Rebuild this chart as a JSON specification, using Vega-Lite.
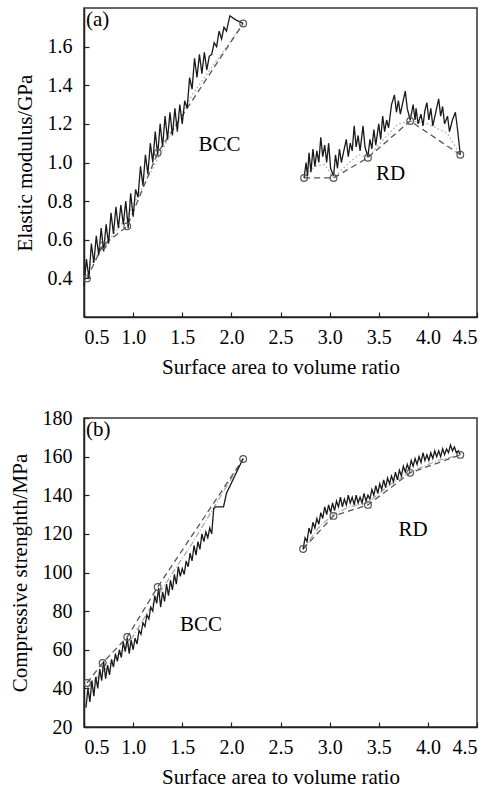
{
  "$schema": "https://vega.github.io/schema/vega-lite/v6.json",
  "padding": {"left": 8, "top": 7, "right": 0, "bottom": 0},
  "spacing": 29,
  "config": {
    "font": "Liberation Serif",
    "view": {"stroke": "#333", "strokeWidth": 1.5},
    "axis": {"labelFont": "Liberation Serif", "titleFont": "Liberation Serif", "labelFontSize": 20, "titleFontSize": 21, "titleFontWeight": "normal", "labelColor": "#000", "titleColor": "#000", "domainColor": "#222", "domainWidth": 1.5, "tickColor": "#222", "tickSize": -5, "tickWidth": 1.2, "grid": false, "labelOverlap": false},
    "axisX": {"labelPadding": 15, "titlePadding": 9},
    "axisY": {"labelPadding": 17, "titlePadding": 12}
  },
  "datasets": {
    "a": [
      {"kind": "curve", "series": "BCC", "x": 0.5, "y": 0.36},
      {"kind": "curve", "series": "BCC", "x": 0.525, "y": 0.5},
      {"kind": "curve", "series": "BCC", "x": 0.55, "y": 0.4},
      {"kind": "curve", "series": "BCC", "x": 0.575, "y": 0.58},
      {"kind": "curve", "series": "BCC", "x": 0.6, "y": 0.48},
      {"kind": "curve", "series": "BCC", "x": 0.625, "y": 0.62},
      {"kind": "curve", "series": "BCC", "x": 0.65, "y": 0.52},
      {"kind": "curve", "series": "BCC", "x": 0.675, "y": 0.66},
      {"kind": "curve", "series": "BCC", "x": 0.7, "y": 0.54},
      {"kind": "curve", "series": "BCC", "x": 0.725, "y": 0.68},
      {"kind": "curve", "series": "BCC", "x": 0.75, "y": 0.58},
      {"kind": "curve", "series": "BCC", "x": 0.775, "y": 0.74},
      {"kind": "curve", "series": "BCC", "x": 0.8, "y": 0.63},
      {"kind": "curve", "series": "BCC", "x": 0.825, "y": 0.77},
      {"kind": "curve", "series": "BCC", "x": 0.85, "y": 0.66},
      {"kind": "curve", "series": "BCC", "x": 0.875, "y": 0.78},
      {"kind": "curve", "series": "BCC", "x": 0.9, "y": 0.68},
      {"kind": "curve", "series": "BCC", "x": 0.925, "y": 0.8},
      {"kind": "curve", "series": "BCC", "x": 0.95, "y": 0.66},
      {"kind": "curve", "series": "BCC", "x": 0.975, "y": 0.84},
      {"kind": "curve", "series": "BCC", "x": 1.0, "y": 0.72},
      {"kind": "curve", "series": "BCC", "x": 1.025, "y": 0.86},
      {"kind": "curve", "series": "BCC", "x": 1.05, "y": 0.82},
      {"kind": "curve", "series": "BCC", "x": 1.075, "y": 0.98},
      {"kind": "curve", "series": "BCC", "x": 1.1, "y": 0.88},
      {"kind": "curve", "series": "BCC", "x": 1.125, "y": 1.04},
      {"kind": "curve", "series": "BCC", "x": 1.15, "y": 0.94},
      {"kind": "curve", "series": "BCC", "x": 1.175, "y": 1.1},
      {"kind": "curve", "series": "BCC", "x": 1.2, "y": 1.0},
      {"kind": "curve", "series": "BCC", "x": 1.225, "y": 1.16},
      {"kind": "curve", "series": "BCC", "x": 1.25, "y": 1.04},
      {"kind": "curve", "series": "BCC", "x": 1.275, "y": 1.2},
      {"kind": "curve", "series": "BCC", "x": 1.3, "y": 1.08},
      {"kind": "curve", "series": "BCC", "x": 1.325, "y": 1.24},
      {"kind": "curve", "series": "BCC", "x": 1.35, "y": 1.12},
      {"kind": "curve", "series": "BCC", "x": 1.375, "y": 1.26},
      {"kind": "curve", "series": "BCC", "x": 1.4, "y": 1.14},
      {"kind": "curve", "series": "BCC", "x": 1.425, "y": 1.28},
      {"kind": "curve", "series": "BCC", "x": 1.45, "y": 1.16},
      {"kind": "curve", "series": "BCC", "x": 1.475, "y": 1.3},
      {"kind": "curve", "series": "BCC", "x": 1.5, "y": 1.2},
      {"kind": "curve", "series": "BCC", "x": 1.525, "y": 1.32},
      {"kind": "curve", "series": "BCC", "x": 1.55, "y": 1.28},
      {"kind": "curve", "series": "BCC", "x": 1.575, "y": 1.44},
      {"kind": "curve", "series": "BCC", "x": 1.6, "y": 1.38},
      {"kind": "curve", "series": "BCC", "x": 1.625, "y": 1.54},
      {"kind": "curve", "series": "BCC", "x": 1.65, "y": 1.44},
      {"kind": "curve", "series": "BCC", "x": 1.675, "y": 1.56},
      {"kind": "curve", "series": "BCC", "x": 1.7, "y": 1.46},
      {"kind": "curve", "series": "BCC", "x": 1.725, "y": 1.57},
      {"kind": "curve", "series": "BCC", "x": 1.75, "y": 1.48},
      {"kind": "curve", "series": "BCC", "x": 1.775, "y": 1.55},
      {"kind": "curve", "series": "BCC", "x": 1.8, "y": 1.56},
      {"kind": "curve", "series": "BCC", "x": 1.825, "y": 1.62},
      {"kind": "curve", "series": "BCC", "x": 1.85, "y": 1.6},
      {"kind": "curve", "series": "BCC", "x": 1.875, "y": 1.68},
      {"kind": "curve", "series": "BCC", "x": 1.9, "y": 1.64},
      {"kind": "curve", "series": "BCC", "x": 1.925, "y": 1.7},
      {"kind": "curve", "series": "BCC", "x": 1.95, "y": 1.68},
      {"kind": "curve", "series": "BCC", "x": 1.985, "y": 1.76},
      {"kind": "curve", "series": "BCC", "x": 2.04, "y": 1.74},
      {"kind": "curve", "series": "BCC", "x": 2.12, "y": 1.72},
      {"kind": "curve", "series": "RD", "x": 2.74, "y": 0.92},
      {"kind": "curve", "series": "RD", "x": 2.76, "y": 1.0},
      {"kind": "curve", "series": "RD", "x": 2.775, "y": 0.93},
      {"kind": "curve", "series": "RD", "x": 2.79, "y": 1.05},
      {"kind": "curve", "series": "RD", "x": 2.81, "y": 0.95},
      {"kind": "curve", "series": "RD", "x": 2.83, "y": 1.07},
      {"kind": "curve", "series": "RD", "x": 2.85, "y": 0.98},
      {"kind": "curve", "series": "RD", "x": 2.87, "y": 1.06},
      {"kind": "curve", "series": "RD", "x": 2.89, "y": 1.0},
      {"kind": "curve", "series": "RD", "x": 2.91, "y": 1.13},
      {"kind": "curve", "series": "RD", "x": 2.93, "y": 1.03},
      {"kind": "curve", "series": "RD", "x": 2.95, "y": 1.09},
      {"kind": "curve", "series": "RD", "x": 2.97, "y": 1.0},
      {"kind": "curve", "series": "RD", "x": 2.99, "y": 1.1},
      {"kind": "curve", "series": "RD", "x": 3.01, "y": 0.97},
      {"kind": "curve", "series": "RD", "x": 3.04, "y": 0.93},
      {"kind": "curve", "series": "RD", "x": 3.06, "y": 1.04},
      {"kind": "curve", "series": "RD", "x": 3.08, "y": 0.97},
      {"kind": "curve", "series": "RD", "x": 3.1, "y": 1.07},
      {"kind": "curve", "series": "RD", "x": 3.12, "y": 1.0},
      {"kind": "curve", "series": "RD", "x": 3.14, "y": 1.05},
      {"kind": "curve", "series": "RD", "x": 3.17, "y": 1.12},
      {"kind": "curve", "series": "RD", "x": 3.19, "y": 1.03},
      {"kind": "curve", "series": "RD", "x": 3.21, "y": 1.1},
      {"kind": "curve", "series": "RD", "x": 3.23, "y": 1.06},
      {"kind": "curve", "series": "RD", "x": 3.25, "y": 1.19},
      {"kind": "curve", "series": "RD", "x": 3.27, "y": 1.08},
      {"kind": "curve", "series": "RD", "x": 3.29, "y": 1.14},
      {"kind": "curve", "series": "RD", "x": 3.31, "y": 1.06},
      {"kind": "curve", "series": "RD", "x": 3.34, "y": 1.19},
      {"kind": "curve", "series": "RD", "x": 3.36, "y": 1.08},
      {"kind": "curve", "series": "RD", "x": 3.39, "y": 1.03},
      {"kind": "curve", "series": "RD", "x": 3.41, "y": 1.12},
      {"kind": "curve", "series": "RD", "x": 3.43, "y": 1.07},
      {"kind": "curve", "series": "RD", "x": 3.45, "y": 1.17},
      {"kind": "curve", "series": "RD", "x": 3.47, "y": 1.09},
      {"kind": "curve", "series": "RD", "x": 3.5, "y": 1.2},
      {"kind": "curve", "series": "RD", "x": 3.52, "y": 1.12},
      {"kind": "curve", "series": "RD", "x": 3.54, "y": 1.24},
      {"kind": "curve", "series": "RD", "x": 3.56, "y": 1.16},
      {"kind": "curve", "series": "RD", "x": 3.58, "y": 1.22},
      {"kind": "curve", "series": "RD", "x": 3.6, "y": 1.18},
      {"kind": "curve", "series": "RD", "x": 3.63, "y": 1.3},
      {"kind": "curve", "series": "RD", "x": 3.66, "y": 1.35},
      {"kind": "curve", "series": "RD", "x": 3.68, "y": 1.26},
      {"kind": "curve", "series": "RD", "x": 3.7, "y": 1.32},
      {"kind": "curve", "series": "RD", "x": 3.72, "y": 1.25},
      {"kind": "curve", "series": "RD", "x": 3.74, "y": 1.3},
      {"kind": "curve", "series": "RD", "x": 3.77, "y": 1.37},
      {"kind": "curve", "series": "RD", "x": 3.79, "y": 1.28},
      {"kind": "curve", "series": "RD", "x": 3.82, "y": 1.22},
      {"kind": "curve", "series": "RD", "x": 3.85, "y": 1.3},
      {"kind": "curve", "series": "RD", "x": 3.87, "y": 1.22},
      {"kind": "curve", "series": "RD", "x": 3.88, "y": 1.28},
      {"kind": "curve", "series": "RD", "x": 3.9, "y": 1.2},
      {"kind": "curve", "series": "RD", "x": 3.93, "y": 1.25},
      {"kind": "curve", "series": "RD", "x": 3.95, "y": 1.19},
      {"kind": "curve", "series": "RD", "x": 3.97, "y": 1.27},
      {"kind": "curve", "series": "RD", "x": 3.99, "y": 1.31},
      {"kind": "curve", "series": "RD", "x": 4.01, "y": 1.22},
      {"kind": "curve", "series": "RD", "x": 4.03, "y": 1.28},
      {"kind": "curve", "series": "RD", "x": 4.05, "y": 1.19},
      {"kind": "curve", "series": "RD", "x": 4.08, "y": 1.26},
      {"kind": "curve", "series": "RD", "x": 4.11, "y": 1.33},
      {"kind": "curve", "series": "RD", "x": 4.13, "y": 1.24},
      {"kind": "curve", "series": "RD", "x": 4.15, "y": 1.29},
      {"kind": "curve", "series": "RD", "x": 4.17, "y": 1.2},
      {"kind": "curve", "series": "RD", "x": 4.2, "y": 1.24},
      {"kind": "curve", "series": "RD", "x": 4.22, "y": 1.16},
      {"kind": "curve", "series": "RD", "x": 4.25, "y": 1.22},
      {"kind": "curve", "series": "RD", "x": 4.28, "y": 1.26},
      {"kind": "curve", "series": "RD", "x": 4.3, "y": 1.18},
      {"kind": "curve", "series": "RD", "x": 4.33, "y": 1.04},
      {"kind": "dash", "series": "BCC", "x": 0.53, "y": 0.4},
      {"kind": "dash", "series": "BCC", "x": 0.69, "y": 0.57},
      {"kind": "dash", "series": "BCC", "x": 0.94, "y": 0.67},
      {"kind": "dash", "series": "BCC", "x": 1.25, "y": 1.05},
      {"kind": "dash", "series": "BCC", "x": 2.12, "y": 1.72},
      {"kind": "dash", "series": "RD", "x": 2.74, "y": 0.92},
      {"kind": "dash", "series": "RD", "x": 3.04, "y": 0.92},
      {"kind": "dash", "series": "RD", "x": 3.39, "y": 1.025},
      {"kind": "dash", "series": "RD", "x": 3.82, "y": 1.215},
      {"kind": "dash", "series": "RD", "x": 4.33, "y": 1.04},
      {"kind": "dot", "series": "BCC", "x": 0.53, "y": 0.45},
      {"kind": "dot", "series": "BCC", "x": 0.94, "y": 0.72},
      {"kind": "dot", "series": "BCC", "x": 1.25, "y": 1.02},
      {"kind": "dot", "series": "BCC", "x": 1.6, "y": 1.35},
      {"kind": "dot", "series": "BCC", "x": 2.12, "y": 1.72},
      {"kind": "dot", "series": "RD", "x": 2.74, "y": 0.92},
      {"kind": "dot", "series": "RD", "x": 2.85, "y": 0.98},
      {"kind": "dot", "series": "RD", "x": 2.95, "y": 0.99},
      {"kind": "dot", "series": "RD", "x": 3.04, "y": 0.92},
      {"kind": "dot", "series": "RD", "x": 3.2, "y": 1.0},
      {"kind": "dot", "series": "RD", "x": 3.3, "y": 1.04},
      {"kind": "dot", "series": "RD", "x": 3.39, "y": 1.025},
      {"kind": "dot", "series": "RD", "x": 3.55, "y": 1.12},
      {"kind": "dot", "series": "RD", "x": 3.7, "y": 1.2},
      {"kind": "dot", "series": "RD", "x": 3.82, "y": 1.215},
      {"kind": "dot", "series": "RD", "x": 4.0, "y": 1.2},
      {"kind": "dot", "series": "RD", "x": 4.2, "y": 1.15},
      {"kind": "dot", "series": "RD", "x": 4.33, "y": 1.04},
      {"kind": "pt", "series": "BCC", "x": 0.53, "y": 0.4},
      {"kind": "pt", "series": "BCC", "x": 0.69, "y": 0.57},
      {"kind": "pt", "series": "BCC", "x": 0.94, "y": 0.67},
      {"kind": "pt", "series": "BCC", "x": 1.25, "y": 1.05},
      {"kind": "pt", "series": "BCC", "x": 2.12, "y": 1.72},
      {"kind": "pt", "series": "RD", "x": 2.74, "y": 0.92},
      {"kind": "pt", "series": "RD", "x": 3.04, "y": 0.92},
      {"kind": "pt", "series": "RD", "x": 3.39, "y": 1.025},
      {"kind": "pt", "series": "RD", "x": 3.82, "y": 1.215},
      {"kind": "pt", "series": "RD", "x": 4.33, "y": 1.04}
    ],
    "b": [
      {"kind": "curve", "series": "BCC", "x": 0.52, "y": 30},
      {"kind": "curve", "series": "BCC", "x": 0.54, "y": 40},
      {"kind": "curve", "series": "BCC", "x": 0.56, "y": 33},
      {"kind": "curve", "series": "BCC", "x": 0.58, "y": 44},
      {"kind": "curve", "series": "BCC", "x": 0.6, "y": 36},
      {"kind": "curve", "series": "BCC", "x": 0.62, "y": 46},
      {"kind": "curve", "series": "BCC", "x": 0.64, "y": 40},
      {"kind": "curve", "series": "BCC", "x": 0.66, "y": 50},
      {"kind": "curve", "series": "BCC", "x": 0.68, "y": 44},
      {"kind": "curve", "series": "BCC", "x": 0.7, "y": 54},
      {"kind": "curve", "series": "BCC", "x": 0.72, "y": 45},
      {"kind": "curve", "series": "BCC", "x": 0.74, "y": 52},
      {"kind": "curve", "series": "BCC", "x": 0.76, "y": 47},
      {"kind": "curve", "series": "BCC", "x": 0.78, "y": 55},
      {"kind": "curve", "series": "BCC", "x": 0.8, "y": 51},
      {"kind": "curve", "series": "BCC", "x": 0.82, "y": 58},
      {"kind": "curve", "series": "BCC", "x": 0.84, "y": 54},
      {"kind": "curve", "series": "BCC", "x": 0.86, "y": 60},
      {"kind": "curve", "series": "BCC", "x": 0.88, "y": 56},
      {"kind": "curve", "series": "BCC", "x": 0.9, "y": 64},
      {"kind": "curve", "series": "BCC", "x": 0.92, "y": 59},
      {"kind": "curve", "series": "BCC", "x": 0.94, "y": 66},
      {"kind": "curve", "series": "BCC", "x": 0.96, "y": 58},
      {"kind": "curve", "series": "BCC", "x": 0.98, "y": 65},
      {"kind": "curve", "series": "BCC", "x": 1.0, "y": 60},
      {"kind": "curve", "series": "BCC", "x": 1.02, "y": 66},
      {"kind": "curve", "series": "BCC", "x": 1.04, "y": 63},
      {"kind": "curve", "series": "BCC", "x": 1.06, "y": 70},
      {"kind": "curve", "series": "BCC", "x": 1.08, "y": 68},
      {"kind": "curve", "series": "BCC", "x": 1.1, "y": 74},
      {"kind": "curve", "series": "BCC", "x": 1.12, "y": 72},
      {"kind": "curve", "series": "BCC", "x": 1.14, "y": 78},
      {"kind": "curve", "series": "BCC", "x": 1.16, "y": 76},
      {"kind": "curve", "series": "BCC", "x": 1.18, "y": 82},
      {"kind": "curve", "series": "BCC", "x": 1.2, "y": 80},
      {"kind": "curve", "series": "BCC", "x": 1.22, "y": 88},
      {"kind": "curve", "series": "BCC", "x": 1.24, "y": 84},
      {"kind": "curve", "series": "BCC", "x": 1.26, "y": 92},
      {"kind": "curve", "series": "BCC", "x": 1.28, "y": 82},
      {"kind": "curve", "series": "BCC", "x": 1.3, "y": 90},
      {"kind": "curve", "series": "BCC", "x": 1.32, "y": 85},
      {"kind": "curve", "series": "BCC", "x": 1.34, "y": 94},
      {"kind": "curve", "series": "BCC", "x": 1.36, "y": 88},
      {"kind": "curve", "series": "BCC", "x": 1.38, "y": 96},
      {"kind": "curve", "series": "BCC", "x": 1.4, "y": 91},
      {"kind": "curve", "series": "BCC", "x": 1.42, "y": 99},
      {"kind": "curve", "series": "BCC", "x": 1.44, "y": 94},
      {"kind": "curve", "series": "BCC", "x": 1.46, "y": 103},
      {"kind": "curve", "series": "BCC", "x": 1.48, "y": 98},
      {"kind": "curve", "series": "BCC", "x": 1.5, "y": 102},
      {"kind": "curve", "series": "BCC", "x": 1.52, "y": 99},
      {"kind": "curve", "series": "BCC", "x": 1.54, "y": 106},
      {"kind": "curve", "series": "BCC", "x": 1.56, "y": 103},
      {"kind": "curve", "series": "BCC", "x": 1.58, "y": 110},
      {"kind": "curve", "series": "BCC", "x": 1.6, "y": 106},
      {"kind": "curve", "series": "BCC", "x": 1.62, "y": 114},
      {"kind": "curve", "series": "BCC", "x": 1.64, "y": 109},
      {"kind": "curve", "series": "BCC", "x": 1.66, "y": 116},
      {"kind": "curve", "series": "BCC", "x": 1.68, "y": 112},
      {"kind": "curve", "series": "BCC", "x": 1.7, "y": 120},
      {"kind": "curve", "series": "BCC", "x": 1.72, "y": 116},
      {"kind": "curve", "series": "BCC", "x": 1.74, "y": 121},
      {"kind": "curve", "series": "BCC", "x": 1.76, "y": 118},
      {"kind": "curve", "series": "BCC", "x": 1.78, "y": 123},
      {"kind": "curve", "series": "BCC", "x": 1.8, "y": 120},
      {"kind": "curve", "series": "BCC", "x": 1.82, "y": 133},
      {"kind": "curve", "series": "BCC", "x": 1.84, "y": 134},
      {"kind": "curve", "series": "BCC", "x": 1.92, "y": 134},
      {"kind": "curve", "series": "BCC", "x": 1.95, "y": 141},
      {"kind": "curve", "series": "BCC", "x": 2.12, "y": 159},
      {"kind": "curve", "series": "RD", "x": 2.73, "y": 112},
      {"kind": "curve", "series": "RD", "x": 2.75, "y": 118},
      {"kind": "curve", "series": "RD", "x": 2.77, "y": 116},
      {"kind": "curve", "series": "RD", "x": 2.79, "y": 123},
      {"kind": "curve", "series": "RD", "x": 2.81, "y": 120},
      {"kind": "curve", "series": "RD", "x": 2.83, "y": 126},
      {"kind": "curve", "series": "RD", "x": 2.85, "y": 123},
      {"kind": "curve", "series": "RD", "x": 2.87, "y": 128},
      {"kind": "curve", "series": "RD", "x": 2.89, "y": 125},
      {"kind": "curve", "series": "RD", "x": 2.91, "y": 131},
      {"kind": "curve", "series": "RD", "x": 2.93, "y": 128},
      {"kind": "curve", "series": "RD", "x": 2.95, "y": 134},
      {"kind": "curve", "series": "RD", "x": 2.97, "y": 130},
      {"kind": "curve", "series": "RD", "x": 2.99, "y": 135},
      {"kind": "curve", "series": "RD", "x": 3.01, "y": 131},
      {"kind": "curve", "series": "RD", "x": 3.03, "y": 136},
      {"kind": "curve", "series": "RD", "x": 3.05, "y": 132},
      {"kind": "curve", "series": "RD", "x": 3.07, "y": 137},
      {"kind": "curve", "series": "RD", "x": 3.09, "y": 134},
      {"kind": "curve", "series": "RD", "x": 3.11, "y": 139},
      {"kind": "curve", "series": "RD", "x": 3.13, "y": 134},
      {"kind": "curve", "series": "RD", "x": 3.15, "y": 138},
      {"kind": "curve", "series": "RD", "x": 3.17, "y": 135},
      {"kind": "curve", "series": "RD", "x": 3.19, "y": 140},
      {"kind": "curve", "series": "RD", "x": 3.21, "y": 136},
      {"kind": "curve", "series": "RD", "x": 3.23, "y": 139},
      {"kind": "curve", "series": "RD", "x": 3.25, "y": 135},
      {"kind": "curve", "series": "RD", "x": 3.27, "y": 140},
      {"kind": "curve", "series": "RD", "x": 3.29, "y": 136},
      {"kind": "curve", "series": "RD", "x": 3.31, "y": 139},
      {"kind": "curve", "series": "RD", "x": 3.33, "y": 136},
      {"kind": "curve", "series": "RD", "x": 3.35, "y": 141},
      {"kind": "curve", "series": "RD", "x": 3.37, "y": 137},
      {"kind": "curve", "series": "RD", "x": 3.39, "y": 140},
      {"kind": "curve", "series": "RD", "x": 3.41, "y": 138},
      {"kind": "curve", "series": "RD", "x": 3.43, "y": 143},
      {"kind": "curve", "series": "RD", "x": 3.45, "y": 140},
      {"kind": "curve", "series": "RD", "x": 3.47, "y": 145},
      {"kind": "curve", "series": "RD", "x": 3.49, "y": 141},
      {"kind": "curve", "series": "RD", "x": 3.51, "y": 146},
      {"kind": "curve", "series": "RD", "x": 3.53, "y": 143},
      {"kind": "curve", "series": "RD", "x": 3.55, "y": 148},
      {"kind": "curve", "series": "RD", "x": 3.57, "y": 144},
      {"kind": "curve", "series": "RD", "x": 3.59, "y": 149},
      {"kind": "curve", "series": "RD", "x": 3.61, "y": 146},
      {"kind": "curve", "series": "RD", "x": 3.63, "y": 150},
      {"kind": "curve", "series": "RD", "x": 3.65, "y": 147},
      {"kind": "curve", "series": "RD", "x": 3.67, "y": 152},
      {"kind": "curve", "series": "RD", "x": 3.69, "y": 148},
      {"kind": "curve", "series": "RD", "x": 3.71, "y": 153},
      {"kind": "curve", "series": "RD", "x": 3.73, "y": 150},
      {"kind": "curve", "series": "RD", "x": 3.75, "y": 155},
      {"kind": "curve", "series": "RD", "x": 3.77, "y": 152},
      {"kind": "curve", "series": "RD", "x": 3.79, "y": 156},
      {"kind": "curve", "series": "RD", "x": 3.81, "y": 153},
      {"kind": "curve", "series": "RD", "x": 3.83, "y": 158},
      {"kind": "curve", "series": "RD", "x": 3.85, "y": 155},
      {"kind": "curve", "series": "RD", "x": 3.87, "y": 159},
      {"kind": "curve", "series": "RD", "x": 3.89, "y": 156},
      {"kind": "curve", "series": "RD", "x": 3.91, "y": 160},
      {"kind": "curve", "series": "RD", "x": 3.93, "y": 157},
      {"kind": "curve", "series": "RD", "x": 3.95, "y": 162},
      {"kind": "curve", "series": "RD", "x": 3.97, "y": 158},
      {"kind": "curve", "series": "RD", "x": 3.99, "y": 161},
      {"kind": "curve", "series": "RD", "x": 4.01, "y": 158},
      {"kind": "curve", "series": "RD", "x": 4.03, "y": 162},
      {"kind": "curve", "series": "RD", "x": 4.05, "y": 159},
      {"kind": "curve", "series": "RD", "x": 4.07, "y": 163},
      {"kind": "curve", "series": "RD", "x": 4.09, "y": 160},
      {"kind": "curve", "series": "RD", "x": 4.11, "y": 163},
      {"kind": "curve", "series": "RD", "x": 4.13, "y": 160},
      {"kind": "curve", "series": "RD", "x": 4.15, "y": 164},
      {"kind": "curve", "series": "RD", "x": 4.17, "y": 161},
      {"kind": "curve", "series": "RD", "x": 4.19, "y": 164},
      {"kind": "curve", "series": "RD", "x": 4.21, "y": 162},
      {"kind": "curve", "series": "RD", "x": 4.23, "y": 166},
      {"kind": "curve", "series": "RD", "x": 4.25, "y": 163},
      {"kind": "curve", "series": "RD", "x": 4.27, "y": 165},
      {"kind": "curve", "series": "RD", "x": 4.29, "y": 162},
      {"kind": "curve", "series": "RD", "x": 4.31, "y": 163},
      {"kind": "curve", "series": "RD", "x": 4.33, "y": 161},
      {"kind": "dash", "series": "BCC", "x": 0.53, "y": 42.8},
      {"kind": "dash", "series": "BCC", "x": 0.69, "y": 53.2},
      {"kind": "dash", "series": "BCC", "x": 0.94, "y": 66.6},
      {"kind": "dash", "series": "BCC", "x": 1.25, "y": 92.5},
      {"kind": "dash", "series": "BCC", "x": 2.12, "y": 158.8},
      {"kind": "dash", "series": "RD", "x": 2.73, "y": 112.2},
      {"kind": "dash", "series": "RD", "x": 3.04, "y": 129.3},
      {"kind": "dash", "series": "RD", "x": 3.39, "y": 135},
      {"kind": "dash", "series": "RD", "x": 3.82, "y": 151.6},
      {"kind": "dash", "series": "RD", "x": 4.33, "y": 160.9},
      {"kind": "dot", "series": "BCC", "x": 0.53, "y": 40},
      {"kind": "dot", "series": "BCC", "x": 0.94, "y": 62},
      {"kind": "dot", "series": "BCC", "x": 1.25, "y": 88},
      {"kind": "dot", "series": "BCC", "x": 1.6, "y": 115},
      {"kind": "dot", "series": "BCC", "x": 2.12, "y": 158.8},
      {"kind": "dot", "series": "RD", "x": 2.73, "y": 112.2},
      {"kind": "dot", "series": "RD", "x": 2.9, "y": 124},
      {"kind": "dot", "series": "RD", "x": 3.04, "y": 130},
      {"kind": "dot", "series": "RD", "x": 3.2, "y": 134},
      {"kind": "dot", "series": "RD", "x": 3.39, "y": 136},
      {"kind": "dot", "series": "RD", "x": 3.6, "y": 145},
      {"kind": "dot", "series": "RD", "x": 3.82, "y": 152},
      {"kind": "dot", "series": "RD", "x": 4.1, "y": 158},
      {"kind": "dot", "series": "RD", "x": 4.33, "y": 160.9},
      {"kind": "pt", "series": "BCC", "x": 0.53, "y": 42.8},
      {"kind": "pt", "series": "BCC", "x": 0.69, "y": 53.2},
      {"kind": "pt", "series": "BCC", "x": 0.94, "y": 66.6},
      {"kind": "pt", "series": "BCC", "x": 1.25, "y": 92.5},
      {"kind": "pt", "series": "BCC", "x": 2.12, "y": 158.8},
      {"kind": "pt", "series": "RD", "x": 2.73, "y": 112.2},
      {"kind": "pt", "series": "RD", "x": 3.04, "y": 129.3},
      {"kind": "pt", "series": "RD", "x": 3.39, "y": 135},
      {"kind": "pt", "series": "RD", "x": 3.82, "y": 151.6},
      {"kind": "pt", "series": "RD", "x": 4.33, "y": 160.9}
    ],
    "la": [
      {"x": 1.88, "y": 1.09, "label": "BCC"},
      {"x": 3.62, "y": 0.94, "label": "RD"}
    ],
    "lb": [
      {"x": 1.69, "y": 72.8, "label": "BCC"},
      {"x": 3.85, "y": 122, "label": "RD"}
    ],
    "ta": [{"x": 0.5, "y": 1.8, "label": "(a)"}],
    "tb": [{"x": 0.5, "y": 180, "label": "(b)"}]
  },
  "vconcat": [
    {
      "width": 393,
      "height": 309,
      "layer": [
        {
          "data": {"name": "a"},
          "transform": [{"filter": "datum.kind === 'dot'"}],
          "mark": {"type": "line", "color": "#b5b5b5", "strokeWidth": 1.2, "strokeDash": [2, 2]},
          "encoding": {
            "x": {"field": "x", "type": "quantitative", "scale": {"domain": [0.5, 4.5], "nice": false, "zero": false}, "axis": {"values": [0.5, 1, 1.5, 2, 2.5, 3, 3.5, 4, 4.5], "tickCount": 12, "format": ".1f", "title": "Surface area to volume ratio", "labelOverlap": false}},
            "y": {"field": "y", "type": "quantitative", "scale": {"domain": [0.2, 1.8], "nice": false, "zero": false}, "axis": {"values": [0.4, 0.6, 0.8, 1.0, 1.2, 1.4, 1.6], "tickCount": 12, "format": ".1f", "title": "Elastic modulus/GPa", "labelOverlap": false}},
            "detail": {"field": "series"}
          }
        },
        {
          "data": {"name": "a"},
          "transform": [{"filter": "datum.kind === 'dash'"}],
          "mark": {"type": "line", "color": "#555", "strokeWidth": 1.3, "strokeDash": [6, 4]},
          "encoding": {"x": {"field": "x", "type": "quantitative"}, "y": {"field": "y", "type": "quantitative"}, "detail": {"field": "series"}}
        },
        {
          "data": {"name": "a"},
          "transform": [{"filter": "datum.kind === 'curve'"}],
          "mark": {"type": "line", "color": "#1a1a1a", "strokeWidth": 1.3},
          "encoding": {"x": {"field": "x", "type": "quantitative"}, "y": {"field": "y", "type": "quantitative"}, "detail": {"field": "series"}}
        },
        {
          "data": {"name": "a"},
          "transform": [{"filter": "datum.kind === 'pt'"}],
          "mark": {"type": "point", "filled": false, "color": "#555", "size": 45, "strokeWidth": 1.2, "opacity": 1},
          "encoding": {"x": {"field": "x", "type": "quantitative"}, "y": {"field": "y", "type": "quantitative"}}
        },
        {
          "data": {"name": "la"},
          "mark": {"type": "text", "fontSize": 21, "font": "Liberation Serif", "color": "#000"},
          "encoding": {"x": {"field": "x", "type": "quantitative"}, "y": {"field": "y", "type": "quantitative"}, "text": {"field": "label"}}
        },
        {
          "data": {"name": "ta"},
          "mark": {"type": "text", "fontSize": 21, "font": "Liberation Serif", "color": "#000", "align": "left", "baseline": "top", "dx": 2, "dy": 1},
          "encoding": {"x": {"field": "x", "type": "quantitative"}, "y": {"field": "y", "type": "quantitative"}, "text": {"field": "label"}}
        }
      ]
    },
    {
      "width": 393,
      "height": 309,
      "layer": [
        {
          "data": {"name": "b"},
          "transform": [{"filter": "datum.kind === 'dot'"}],
          "mark": {"type": "line", "color": "#a5a5a5", "strokeWidth": 1.2, "strokeDash": [6, 2, 1, 2]},
          "encoding": {
            "x": {"field": "x", "type": "quantitative", "scale": {"domain": [0.5, 4.5], "nice": false, "zero": false}, "axis": {"values": [0.5, 1, 1.5, 2, 2.5, 3, 3.5, 4, 4.5], "tickCount": 12, "format": ".1f", "title": "Surface area to volume ratio", "labelOverlap": false}},
            "y": {"field": "y", "type": "quantitative", "scale": {"domain": [20, 180], "nice": false, "zero": false}, "axis": {"values": [20, 40, 60, 80, 100, 120, 140, 160, 180], "tickCount": 12, "format": "d", "title": "Compressive strenghth/MPa", "labelOverlap": false}},
            "detail": {"field": "series"}
          }
        },
        {
          "data": {"name": "b"},
          "transform": [{"filter": "datum.kind === 'dash'"}],
          "mark": {"type": "line", "color": "#555", "strokeWidth": 1.3, "strokeDash": [6, 4]},
          "encoding": {"x": {"field": "x", "type": "quantitative"}, "y": {"field": "y", "type": "quantitative"}, "detail": {"field": "series"}}
        },
        {
          "data": {"name": "b"},
          "transform": [{"filter": "datum.kind === 'curve'"}],
          "mark": {"type": "line", "color": "#1a1a1a", "strokeWidth": 1.3},
          "encoding": {"x": {"field": "x", "type": "quantitative"}, "y": {"field": "y", "type": "quantitative"}, "detail": {"field": "series"}}
        },
        {
          "data": {"name": "b"},
          "transform": [{"filter": "datum.kind === 'pt'"}],
          "mark": {"type": "point", "filled": false, "color": "#555", "size": 45, "strokeWidth": 1.2, "opacity": 1},
          "encoding": {"x": {"field": "x", "type": "quantitative"}, "y": {"field": "y", "type": "quantitative"}}
        },
        {
          "data": {"name": "lb"},
          "mark": {"type": "text", "fontSize": 21, "font": "Liberation Serif", "color": "#000"},
          "encoding": {"x": {"field": "x", "type": "quantitative"}, "y": {"field": "y", "type": "quantitative"}, "text": {"field": "label"}}
        },
        {
          "data": {"name": "tb"},
          "mark": {"type": "text", "fontSize": 21, "font": "Liberation Serif", "color": "#000", "align": "left", "baseline": "top", "dx": 2, "dy": 1},
          "encoding": {"x": {"field": "x", "type": "quantitative"}, "y": {"field": "y", "type": "quantitative"}, "text": {"field": "label"}}
        }
      ]
    }
  ]
}
